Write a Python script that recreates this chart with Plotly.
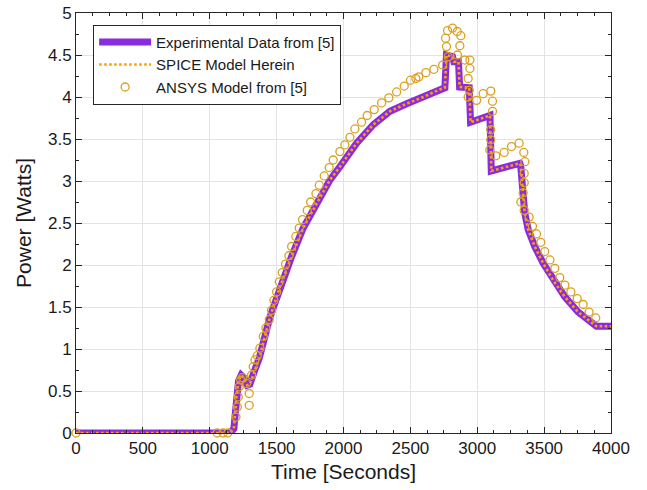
import plotly.graph_objects as go

# ---- Experimental data (purple thick line) ----
exp_time = [0, 1150, 1180, 1200, 1215, 1235, 1255, 1280, 1300, 1330, 1370, 1450, 1525,
            1612, 1699, 1799, 1898, 1973, 2098, 2222, 2347, 2472, 2596, 2720, 2758,
            2770, 2815, 2825, 2860, 2868, 2940, 2950, 3095, 3105, 3318, 3325, 3340,
            3355, 3381, 3430, 3493, 3567, 3655, 3754, 3891, 4000]
exp_power = [0, 0, 0.05, 0.45, 0.62, 0.69, 0.66, 0.57, 0.58, 0.72, 0.89, 1.38, 1.74,
             2.10, 2.44, 2.73, 3.01, 3.17, 3.45, 3.67, 3.83, 3.92, 4.00, 4.09, 4.11,
             4.50, 4.48, 4.42, 4.42, 4.12, 4.11, 3.70, 3.78, 3.12, 3.21, 3.18, 2.85,
             2.62, 2.42, 2.22, 2.02, 1.82, 1.62, 1.44, 1.27, 1.27]

# ---- SPICE model (orange dotted line) ----
spice_time = list(exp_time)
spice_power = list(exp_power)

# ---- ANSYS model (open circles) ----
ansys_time = [0, 1056, 1100, 1135, 1196, 1206, 1213, 1220, 1231, 1245, 1275, 1295, 1295,
              1313, 1325, 1338, 1355, 1375, 1400, 1420, 1445, 1462, 1480, 1500, 1520,
              1542, 1567, 1592, 1612, 1644, 1669, 1694, 1729, 1754, 1794, 1819, 1856,
              1893, 1923, 1973, 2010, 2048, 2085, 2135, 2177, 2230, 2285, 2339, 2397,
              2454, 2501, 2541, 2563, 2616, 2676, 2741, 2763, 2778, 2815, 2850, 2877,
              2770, 2870, 2783, 2852, 2907, 2945, 2945, 2932, 2940, 2932, 2995, 3044,
              3101, 3114, 3114, 3101, 3101, 3094, 3139, 3201, 3256, 3313, 3348, 3356,
              3351, 3351, 3343, 3326, 3351, 3388, 3413, 3443, 3475, 3505, 3543, 3580,
              3617, 3655, 3700, 3747, 3792, 3836, 3886]
ansys_power = [0, 0, 0, 0, 0.19, 0.31, 0.43, 0.55, 0.63, 0.66, 0.59, 0.47, 0.33,
               0.69, 0.79, 0.87, 0.92, 1.01, 1.15, 1.25, 1.35, 1.46, 1.58, 1.68, 1.80,
               1.91, 2.01, 2.11, 2.22, 2.34, 2.44, 2.54, 2.65, 2.75, 2.85, 2.95, 3.06,
               3.16, 3.25, 3.35, 3.43, 3.52, 3.62, 3.70, 3.78, 3.85, 3.93, 3.99, 4.06,
               4.13, 4.20, 4.22, 4.24, 4.29, 4.33, 4.38, 4.70, 4.79, 4.82, 4.78, 4.73,
               4.60, 4.61, 4.48, 4.50, 4.44, 4.44, 4.34, 4.22, 4.08, 4.00, 3.96, 4.04,
               4.07, 3.95, 3.83, 3.61, 3.49, 3.37, 3.30, 3.34, 3.41, 3.45, 3.34, 3.23,
               3.09, 2.98, 2.86, 2.75, 2.65, 2.57, 2.46, 2.37, 2.27, 2.16, 2.06, 1.96,
               1.85, 1.76, 1.68, 1.60, 1.53, 1.44, 1.37]

FONT = "Liberation Sans, Arial, Helvetica, sans-serif"
AX = "#262626"
TXT = "#1a1a1a"

fig = go.Figure()
fig.add_trace(go.Scatter(x=exp_time, y=exp_power, mode="lines",
                         name="Experimental Data from [5]",
                         line=dict(color="rgb(138,43,226)", width=7)))
fig.add_trace(go.Scatter(x=spice_time, y=spice_power, mode="lines",
                         name="SPICE Model Herein",
                         line=dict(color="rgb(255,160,0)", width=2.6, dash="2.6px,2.4px")))
fig.add_trace(go.Scatter(x=ansys_time, y=ansys_power, mode="markers",
                         name="ANSYS Model from [5]", cliponaxis=False,
                         marker=dict(symbol="circle-open", size=8, color="rgb(220,160,30)",
                                     line=dict(width=1.3, color="rgb(220,160,30)"))))

tick_common = dict(ticks="inside", ticklen=6, tickcolor=AX, tickwidth=1,
                   showline=True, linecolor=AX, linewidth=1, zeroline=False,
                   automargin=False)

fig.update_layout(
    xaxis=dict(range=[0, 4000], tick0=0, dtick=500,
               minor=dict(dtick=125, ticks="inside", ticklen=3, tickcolor=AX, showgrid=False),
               showgrid=True, gridcolor="#E3E3E3", gridwidth=1,
               ticklabeloverflow="allow",
               tickfont=dict(family=FONT, size=17, color=TXT),
               title=dict(text="Time [Seconds]", font=dict(family=FONT, size=21, color=TXT),
                          standoff=6),
               **tick_common),
    yaxis=dict(range=[0, 5], tick0=0, dtick=0.5,
               minor=dict(dtick=0.25, ticks="inside", ticklen=3, tickcolor=AX, showgrid=False),
               showgrid=True, gridcolor="#E3E3E3", gridwidth=1,
               ticklabeloverflow="allow",
               tickfont=dict(family=FONT, size=17, color=TXT),
               title=dict(text="Power [Watts]", font=dict(family=FONT, size=21, color=TXT),
                          standoff=10),
               **tick_common),
    # mirrored frame with ticks on top and right
    xaxis2=dict(range=[0, 4000], tick0=0, dtick=500, overlaying="x", side="top",
                anchor="y", showticklabels=False, showgrid=False,
                minor=dict(dtick=125, ticks="inside", ticklen=3, tickcolor=AX, showgrid=False),
                **tick_common),
    yaxis2=dict(range=[0, 5], tick0=0, dtick=0.5, overlaying="y", side="right",
                anchor="x", showticklabels=False, showgrid=False,
                minor=dict(dtick=0.25, ticks="inside", ticklen=3, tickcolor=AX, showgrid=False),
                **tick_common),
    width=647, height=490,
    margin=dict(l=76, r=36, t=13, b=57),
    plot_bgcolor="white", paper_bgcolor="white",
    showlegend=True,
    legend=dict(x=0.032, y=0.972, xanchor="left", yanchor="top",
                bgcolor="white", bordercolor=AX, borderwidth=1,
                font=dict(family=FONT, size=15, color=TXT),
                tracegroupgap=0, itemwidth=52),
)
# invisible trace to activate the mirrored axes
fig.add_trace(go.Scatter(x=[None], y=[None], xaxis="x2", yaxis="y2",
                         showlegend=False, hoverinfo="skip"))

# remove the default page margin so the figure fills the window exactly
fig.write_html("out.html",
               config={"displayModeBar": False, "staticPlot": True},
               post_script="document.body.style.margin='0';document.body.style.overflow='hidden';")
